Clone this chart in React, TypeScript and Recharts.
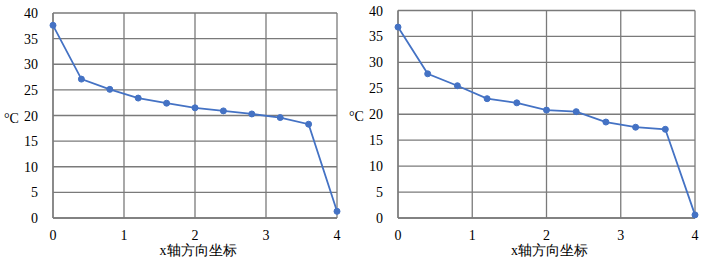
import React, { useRef, useLayoutEffect } from "react";
import { LineChart, Line, XAxis, YAxis, CartesianGrid } from "recharts";

const xPositions = [0, 0.4, 0.8, 1.2, 1.6, 2.0, 2.4, 2.8, 3.2, 3.6, 4.0];
const leftTemps = [37.6, 27.1, 25.1, 23.4, 22.4, 21.5, 20.9, 20.3, 19.6, 18.3, 1.3];
const rightTemps = [36.8, 27.8, 25.5, 23.0, 22.2, 20.8, 20.5, 18.5, 17.5, 17.1, 0.6];
const xTicks = [0, 1, 2, 3, 4];
const yTicks = [0, 5, 10, 15, 20, 25, 30, 35, 40];
const xLabel = "x轴方向坐标";
const yLabel = "°C";

const font = "Liberation Serif";
const gridColor = "#7a7a7a";
const lineColor = "#4472C4";

function build(temps: number[]) {
  return xPositions.map((x, i) => ({ x, t: temps[i] }));
}

function SerifText(props: any) {
  const ref = useRef<SVGTextElement>(null);
  useLayoutEffect(() => {
    if (ref.current) ref.current.style.setProperty("font-family", font, "important");
  });
  const { children, ...rest } = props;
  return (
    <text ref={ref} fontFamily={font} fontSize={14} fill="#000" {...rest}>
      {children}
    </text>
  );
}

const renderXTick = (props: any) => {
  const { x, y, payload } = props;
  return (
    <SerifText key={"x" + payload.value} x={x} y={y + 16} textAnchor="middle">
      {payload.value}
    </SerifText>
  );
};

const renderYTick = (props: any) => {
  const { x, y, payload } = props;
  return (
    <SerifText key={"y" + payload.value} x={x - 9} y={y + 5} textAnchor="end">
      {payload.value}
    </SerifText>
  );
};

function XLabel(props: any) {
  const vb = props.viewBox;
  return (
    <SerifText x={vb.x + vb.width / 2 + 3} y={vb.y + 37} textAnchor="middle">
      {xLabel}
    </SerifText>
  );
}

function YLabel(props: any) {
  const vb = props.viewBox;
  return (
    <SerifText x={vb.x + 4} y={vb.y + vb.height / 2 + 7} textAnchor="start">
      {yLabel}
    </SerifText>
  );
}

function Chart({ temps, width, top, right }: { temps: number[]; width: number; top: number; right: number }) {
  return (
    <LineChart
      width={width}
      height={263}
      data={build(temps)}
      margin={{ top, right, left: 0, bottom: 0 }}
    >
      <CartesianGrid stroke={gridColor} strokeWidth={1.3} horizontalValues={yTicks} verticalValues={xTicks} />
      <XAxis
        dataKey="x"
        type="number"
        domain={[0, 4]}
        ticks={xTicks}
        height={45}
        tickLine={false}
        axisLine={{ stroke: gridColor, strokeWidth: 1.3 }}
        tickMargin={0}
        tick={renderXTick}
        label={<XLabel />}
      />
      <YAxis
        type="number"
        domain={[0, 40]}
        ticks={yTicks}
        width={53}
        tickLine={false}
        axisLine={{ stroke: gridColor, strokeWidth: 1.3 }}
        tickMargin={0}
        interval={0}
        tick={renderYTick}
        label={<YLabel />}
      />
      <Line
        dataKey="t"
        stroke={lineColor}
        strokeWidth={1.8}
        dot={{ r: 3, fill: lineColor, stroke: lineColor, strokeWidth: 1 }}
        isAnimationActive={false}
      />
    </LineChart>
  );
}

export default function App() {
  return (
    <div style={{ position: "absolute", left: 0, top: 0, width: 708, height: 263, background: "#fff" }}>
      <div style={{ position: "absolute", left: 0, top: 0 }}>
        <Chart temps={leftTemps} width={354} top={13} right={17} />
      </div>
      <div style={{ position: "absolute", left: 345, top: 0 }}>
        <Chart temps={rightTemps} width={363} top={10.5} right={13} />
      </div>
    </div>
  );
}
